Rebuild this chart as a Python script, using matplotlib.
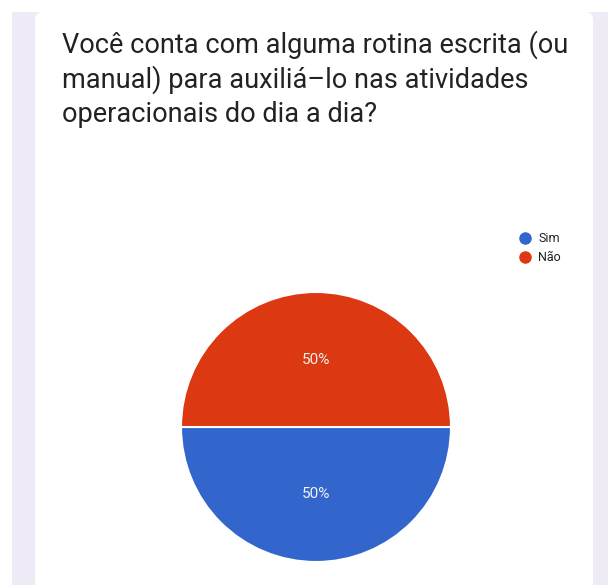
import matplotlib.pyplot as plt
from matplotlib.patches import Rectangle, FancyBboxPatch
from matplotlib.lines import Line2D

# survey answers
labels = ['Sim', 'Não']
shares = [50, 50]
colors = ['#3366CC', '#DC3912']
question = ['Você conta com alguma rotina escrita (ou',
            'manual) para auxiliá–lo nas atividades',
            'operacionais do dia a dia?']

W, H = 608, 585
fig = plt.figure(figsize=(W / 100, H / 100), dpi=100)
fig.patch.set_facecolor('white')

# page background and white card, in pixel coords
bg = fig.add_axes([0, 0, 1, 1])
bg.set_xlim(0, W)
bg.set_ylim(H, 0)
bg.axis('off')
bg.add_patch(Rectangle((12, 12), W - 12, H - 12, color='#EEEBF6', lw=0))
bg.add_patch(FancyBboxPatch((35, 12), 558, H + 20,
                            boxstyle='round,pad=0,rounding_size=8',
                            fc='white', ec='none'))

for i, line in enumerate(question):
    bg.text(62, 53 + 34.5 * i, line, fontsize=19.5, color='#222222',
            family='Roboto', va='baseline', ha='left')

# pie: centre (316, 427) px, radius 135 px
cx, cy, r = 316, 427, 135
ax = fig.add_axes([(cx - r) / W, (H - cy - r) / H, 2 * r / W, 2 * r / H])
wedges, _, pcts = ax.pie(shares, colors=colors, startangle=180,
                         counterclock=True, autopct='%d%%', pctdistance=0.5,
                         wedgeprops=dict(edgecolor='white', linewidth=1.5),
                         textprops=dict(color='#F2F2F2', fontsize=11,
                                        family='Roboto'))
ax.set_xlim(-1, 1)
ax.set_ylim(-1, 1)
ax.set_aspect('equal')

handles = [Line2D([], [], ls='none', marker='o', ms=8, mfc=c, mec=c)
           for c in colors]
leg = fig.legend(handles, labels, loc='upper left',
                 bbox_to_anchor=(517 / W, 1 - 232 / H), frameon=False,
                 handletextpad=0.5, labelspacing=0.5,
                 handlelength=1.2, borderpad=0, borderaxespad=0,
                 prop=dict(family='Roboto', size=9))
for t in leg.get_texts():
    t.set_color('#222222')

fig.savefig('out.png', dpi=100)
